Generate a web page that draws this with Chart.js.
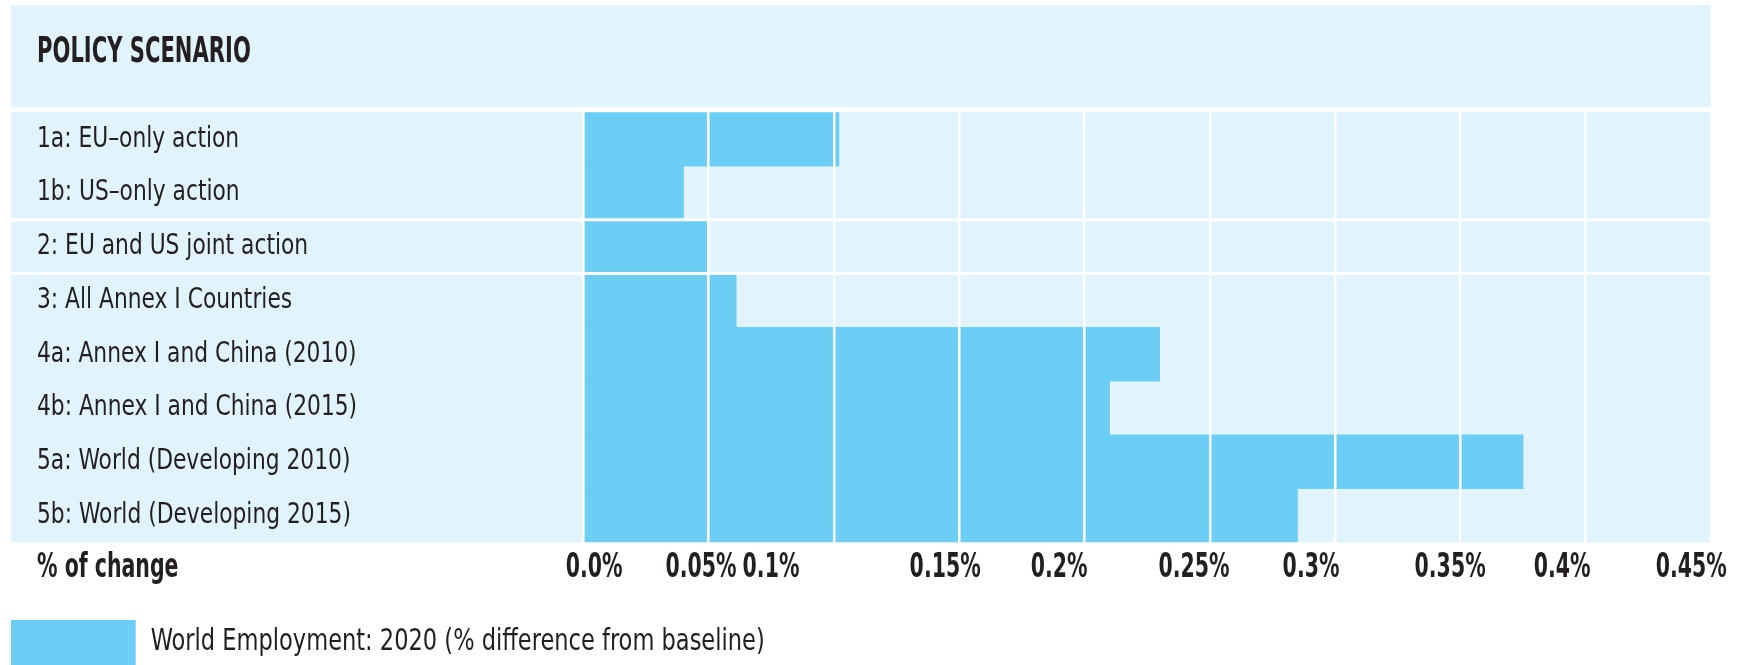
<!DOCTYPE html>
<html>
<head>
<meta charset="utf-8">
<script src="https://cdn.jsdelivr.net/npm/chart.js@4.4.1/dist/chart.umd.min.js"></script>
<style>
  html, body { margin: 0; padding: 0; background: #ffffff; overflow: hidden; }
  #wrap { position: relative; width: 1745px; height: 665px; }
</style>
</head>
<body>
<div id="wrap"><canvas id="chart"></canvas></div>
<script>
// ---- data -------------------------------------------------------------
const scenarios = [
  '1a: EU–only action',
  '1b: US–only action',
  '2: EU and US joint action',
  '3: All Annex I Countries',
  '4a: Annex I and China (2010)',
  '4b: Annex I and China (2015)',
  '5a: World (Developing 2010)',
  '5b: World (Developing 2015)'
];
const employmentChange = [0.102, 0.04, 0.05, 0.061, 0.23, 0.21, 0.375, 0.285];
const tickLabels = ['0.0%', '0.05%', '0.1%', '0.15%', '0.2%', '0.25%', '0.3%', '0.35%', '0.4%', '0.45%'];
const seriesName = 'World Employment: 2020 (% difference from baseline)';
const headerText = 'POLICY SCENARIO';
const axisText = '% of change';
// first scenario of each new block (a white rule is drawn above it)
const groupStarts = [2, 3];

// ---- styling / layout ---------------------------------------------------
const INK = '#231f20';
const BAR = '#6ccef5';
const BAND = '#e1f3fd';
const FAMILY = "'DejaVu Sans Condensed', 'DejaVu Sans', sans-serif";
const PANEL_LEFT = 11;
const TEXT_LEFT = 37;
const HEADER_TOP = 5;
const HEADER_BOTTOM = 107.3;
const HEADER_TEXT_Y = 52.5;
const AXIS_MAX = 0.45;
const AXIS_STEP = 0.05;
// printed percentage labels sit slightly off their grid rules
const tickLabelAnchors = [0.0043, 0.047, 0.0749, 0.1444, 0.1899, 0.2437, 0.2904, 0.3459, 0.3906, 0.4421];

// Narrow display type: every string is set horizontally compressed,
// bold weights tighter than regular ones.
const SQUEEZE_BOLD = 0.67;
const SQUEEZE_REGULAR = 0.835;
function condensedFillText(text, x, y) {
  const squeeze = /bold|[6-9]00/.test(this.font) ? SQUEEZE_BOLD : SQUEEZE_REGULAR;
  const w = this.measureText(text).width * squeeze;
  CanvasRenderingContext2D.prototype.fillText.call(this, text, x, y, w);
}

const panels = {
  id: 'panels',
  beforeDraw(chart) {
    const { ctx, chartArea: a } = chart;
    ctx.save();
    ctx.fillStyle = BAND;
    ctx.fillRect(PANEL_LEFT, HEADER_TOP, a.right - PANEL_LEFT, HEADER_BOTTOM - HEADER_TOP);
    ctx.fillRect(PANEL_LEFT, a.top, a.right - PANEL_LEFT, a.bottom - a.top);
    ctx.fillStyle = INK;
    ctx.textBaseline = 'middle';
    ctx.textAlign = 'left';
    ctx.font = 'bold 35px ' + FAMILY;
    ctx.fillText(headerText, TEXT_LEFT, HEADER_TEXT_Y);
    ctx.restore();
  },
  afterDatasetsDraw(chart) {
    const { ctx, chartArea: a, scales: { y } } = chart;
    ctx.save();
    ctx.strokeStyle = '#ffffff';
    ctx.lineWidth = 3;
    groupStarts.forEach(i => {
      const yy = (y.getPixelForValue(i - 1) + y.getPixelForValue(i)) / 2;
      ctx.beginPath();
      ctx.moveTo(PANEL_LEFT, yy);
      ctx.lineTo(a.right, yy);
      ctx.stroke();
    });
    ctx.restore();
  },
  afterDraw(chart) {
    const { ctx, scales: { x2 } } = chart;
    ctx.save();
    ctx.fillStyle = INK;
    ctx.textBaseline = 'middle';
    ctx.textAlign = 'left';
    ctx.font = 'bold 34px ' + FAMILY;
    ctx.fillText(axisText, TEXT_LEFT, x2.top + 25.4);
    ctx.restore();
  }
};

const canvas = document.getElementById('chart');
const context = canvas.getContext('2d');
context.fillText = condensedFillText;

new Chart(context, {
  type: 'bar',
  data: {
    labels: scenarios,
    datasets: [{
      label: seriesName,
      data: employmentChange,
      xAxisID: 'x',
      yAxisID: 'y',
      backgroundColor: BAR,
      borderWidth: 0,
      barPercentage: 1,
      categoryPercentage: 1
    }]
  },
  options: {
    indexAxis: 'y',
    responsive: true,
    maintainAspectRatio: false,
    animation: false,
    devicePixelRatio: 1,
    layout: { padding: { left: PANEL_LEFT, right: 34, top: 112.3, bottom: -10 } },
    plugins: {
      title: { display: false },
      tooltip: { enabled: false },
      legend: {
        display: true,
        position: 'bottom',
        align: 'start',
        labels: {
          boxWidth: 124.7,
          boxHeight: 45,
          padding: 0,
          color: INK,
          font: { family: FAMILY, size: 30 }
        }
      }
    },
    scales: {
      y: {
        type: 'category',
        weight: 0,
        grid: { display: false, drawTicks: false, tickLength: 0 },
        border: { display: false },
        ticks: {
          crossAlign: 'far',
          padding: 0,
          color: INK,
          font: { family: FAMILY, size: 29 }
        },
        afterFit(scale) {
          scale.width = 546.3;
          scale.paddingTop = 0;
          scale.paddingBottom = 0;
        }
      },
      // empty indent column left of the scenario names
      indent: {
        type: 'linear',
        axis: 'y',
        position: 'left',
        weight: 1,
        grid: { display: false, drawTicks: false },
        border: { display: false },
        ticks: { display: false },
        afterFit(scale) {
          scale.width = TEXT_LEFT - PANEL_LEFT;
        }
      },
      x: {
        type: 'linear',
        position: 'bottom',
        min: 0,
        max: AXIS_MAX,
        grid: { color: '#ffffff', lineWidth: 2.5, drawTicks: false, tickLength: 0, z: 1 },
        border: { display: false },
        ticks: { display: false, stepSize: AXIS_STEP },
        afterFit(scale) {
          scale.height = 0;
          scale.paddingLeft = 0;
          scale.paddingRight = 0;
        }
      },
      x2: {
        type: 'linear',
        position: 'bottom',
        min: 0,
        max: AXIS_MAX,
        grid: { display: false, drawTicks: false, tickLength: 0 },
        border: { display: false },
        ticks: {
          autoSkip: false,
          maxRotation: 0,
          padding: 5,
          color: INK,
          font: { family: FAMILY, size: 34, weight: 'bold' },
          callback: (value, index) => tickLabels[index]
        },
        afterBuildTicks(scale) {
          scale.ticks = tickLabelAnchors.map(v => ({ value: v }));
        },
        afterFit(scale) {
          scale.height = 77.7;
          scale.paddingLeft = 0;
          scale.paddingRight = 0;
        }
      }
    }
  },
  plugins: [panels]
});
</script>
</body>
</html>
